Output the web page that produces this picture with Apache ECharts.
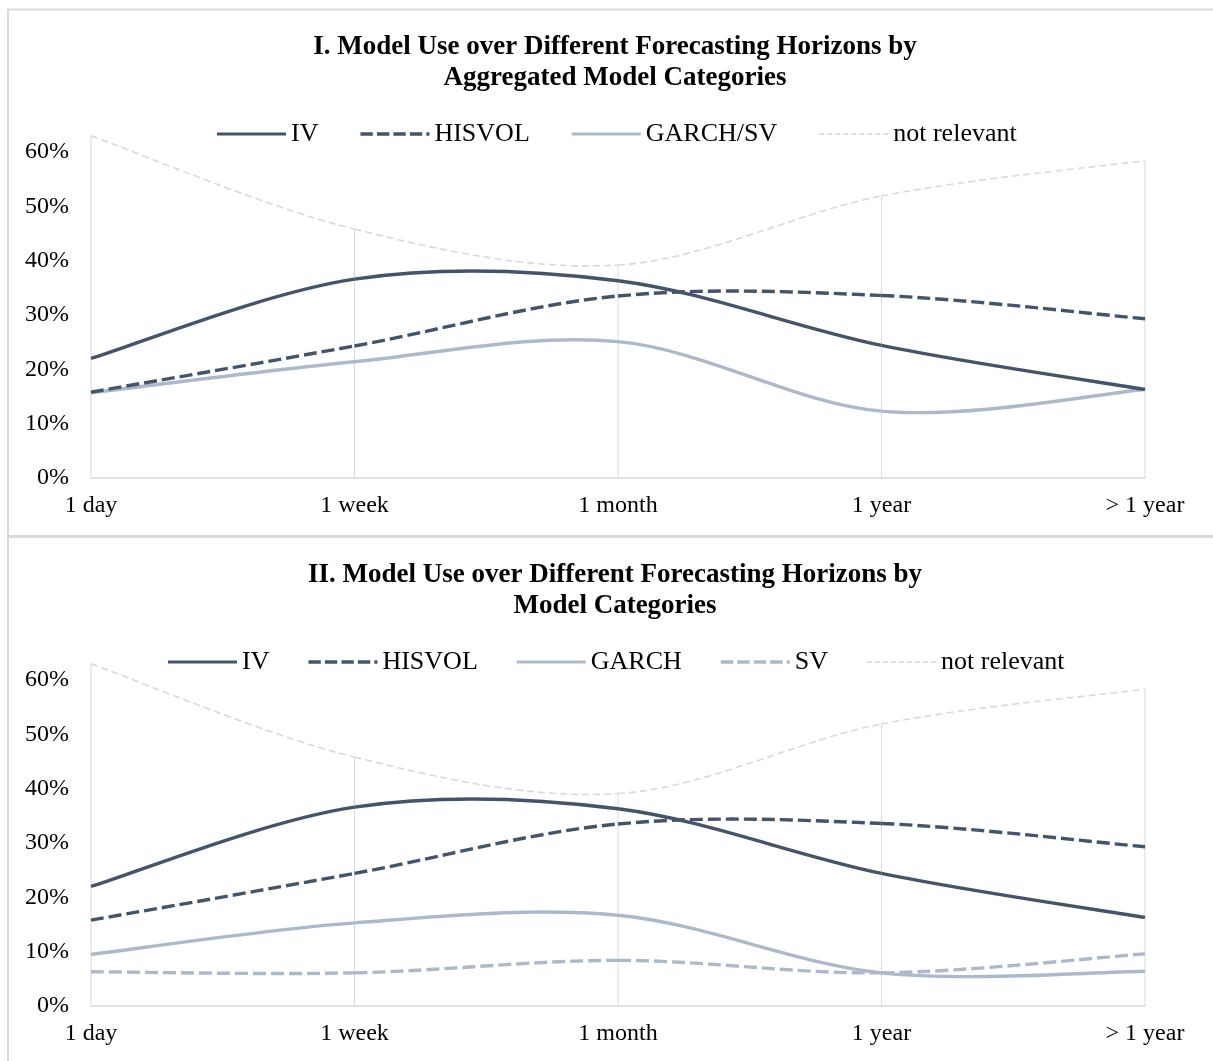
<!DOCTYPE html>
<html>
<head>
<meta charset="utf-8">
<script src="https://cdn.jsdelivr.net/npm/echarts@6/dist/echarts.min.js"></script>
<style>
html,body{margin:0;padding:0;background:#fff;}
#chart{width:1213px;height:1061px;}
</style>
</head>
<body>
<div id="chart"></div>
<script>
// ---- data ----
const categories = ['1 day', '1 week', '1 month', '1 year', '> 1 year'];
const yTicks = [0, 10, 20, 30, 40, 50, 60];

const titleI = 'I. Model Use over Different Forecasting Horizons by\nAggregated Model Categories';
const titleII = 'II. Model Use over Different Forecasting Horizons by\nModel Categories';

const legendI = ['IV', 'HISVOL', 'GARCH/SV', 'not relevant'];
const legendII = ['IV', 'HISVOL', 'GARCH', 'SV', 'not relevant'];

const p1IV = [22.0, 36.6, 36.3, 24.4, 16.3];
const p1HISVOL = [15.8, 24.3, 33.5, 33.6, 29.3];
const p1GARCHSV = [15.7, 21.4, 25.1, 12.3, 16.3];
const p1NotRelevant = [63.0, 45.8, 39.2, 51.9, 58.4];

const p2IV = [22.0, 36.6, 36.3, 24.4, 16.3];
const p2HISVOL = [15.8, 24.4, 33.5, 33.6, 29.3];
const p2GARCH = [9.5, 15.3, 16.7, 6.1, 6.4];
const p2SV = [6.3, 6.1, 8.4, 6.1, 9.6];
const p2NotRelevant = [63.0, 45.8, 39.1, 51.9, 58.3];

// ---- styles ----
const DARK = '#44546a';
const LIGHT = '#adb9ca';
const GREY = '#d9d9d9';
const FONT = '"Liberation Serif", "Times New Roman", serif';
const DASH = [13, 5];
const NR_DASH = [7, 4];

const ICON_SOLID = 'path://M0,0H69V3.2H0Z';
const ICON_DASH = 'path://M0,0h12v3.2h-12zM16,0h12v3.2h-12zM32,0h12v3.2h-12zM48,0h12v3.2h-12zM64,0h3v3.2h-3z';
const ICON_NR = 'path://M0,0h5v1.5h-5zM8,0h5v1.5h-5zM16,0h5v1.5h-5zM24,0h5v1.5h-5zM32,0h5v1.5h-5zM40,0h5v1.5h-5zM48,0h5v1.5h-5zM56,0h5v1.5h-5zM64,0h5v1.5h-5z';

// Excel-like smoothed line (Catmull-Rom Bezier), positioned through the axes via api.coord
function curveSeries(name, arr, idx, color, width, dash) {
  const n = arr.length;
  const cl = k => Math.max(0, Math.min(n - 1, k));
  return {
    name: name, type: 'custom', coordinateSystem: 'cartesian2d',
    xAxisIndex: idx, yAxisIndex: idx,
    data: arr.map((v, i) => [i, v]),
    itemStyle: { color: color },
    z: 3, clip: false, silent: true,
    renderItem: function (params, api) {
      const i = params.dataIndex;
      if (i >= n - 1) return null;
      const P = k => api.coord([cl(k), arr[cl(k)]]);
      const p0 = P(i - 1), p1 = P(i), p2 = P(i + 1), p3 = P(i + 2);
      const t = 1 / 6;
      return {
        type: 'bezierCurve',
        shape: {
          x1: p1[0], y1: p1[1], x2: p2[0], y2: p2[1],
          cpx1: p1[0] + (p2[0] - p0[0]) * t, cpy1: p1[1] + (p2[1] - p0[1]) * t,
          cpx2: p2[0] - (p3[0] - p1[0]) * t, cpy2: p2[1] - (p3[1] - p1[1]) * t
        },
        style: { stroke: color, lineWidth: width, lineDash: dash, fill: null, lineCap: 'butt' }
      };
    }
  };
}
function dropSeries(data, idx) {
  return {
    name: 'drop' + idx, type: 'bar', data: data,
    xAxisIndex: idx, yAxisIndex: idx,
    barWidth: 1, clip: false, z: 1, silent: true,
    itemStyle: { color: GREY }
  };
}
function xAxis(idx) {
  return {
    type: 'category', gridIndex: idx, data: categories, boundaryGap: false,
    axisLine: { lineStyle: { color: GREY, width: 1.5 } },
    axisTick: { show: false },
    axisLabel: { color: '#000', fontFamily: FONT, fontSize: 24, margin: 16 },
    splitLine: { show: false }
  };
}
function yAxis(idx) {
  return {
    type: 'value', gridIndex: idx, min: yTicks[0], max: yTicks[yTicks.length - 1], interval: 10,
    axisLine: { show: false }, axisTick: { show: false }, splitLine: { show: false },
    axisLabel: { color: '#000', fontFamily: FONT, fontSize: 24, margin: 22, formatter: '{value}%' }
  };
}
function legendItems(names) {
  const icons = { 'IV': ICON_SOLID, 'HISVOL': ICON_DASH, 'GARCH/SV': ICON_SOLID, 'GARCH': ICON_SOLID, 'SV': ICON_DASH, 'not relevant': ICON_NR };
  return names.map(n => ({ name: n, icon: icons[n] }));
}
const titleStyle = { color: '#000', fontFamily: FONT, fontSize: 27, fontWeight: 'bold', lineHeight: 31 };
const legendText = { color: '#000', fontFamily: FONT, fontSize: 26 };

const chart = echarts.init(document.getElementById('chart'), null, { renderer: 'canvas' });
chart.setOption({
  backgroundColor: '#fff',
  animation: false,
  title: [
    { text: titleI, left: 610, top: 27, textAlign: 'center', textStyle: titleStyle },
    { text: titleII, left: 610, top: 555, textAlign: 'center', textStyle: titleStyle }
  ],
  legend: [
    { data: legendItems(legendI), left: 212, top: 116, itemWidth: 69, itemHeight: 4, itemGap: 42, textStyle: legendText },
    { data: legendItems(legendII), left: 163, top: 644, itemWidth: 69, itemHeight: 4, itemGap: 39, textStyle: legendText }
  ],
  grid: [
    { left: 91, right: 68, top: 152, height: 326 },
    { left: 91, right: 68, top: 680, height: 326 }
  ],
  xAxis: [xAxis(0), xAxis(1)],
  yAxis: [yAxis(0), yAxis(1)],
  series: [
    dropSeries(p1NotRelevant, 0),
    curveSeries('not relevant', p1NotRelevant, 0, GREY, 1.6, NR_DASH),
    curveSeries('GARCH/SV', p1GARCHSV, 0, LIGHT, 3.4, null),
    curveSeries('HISVOL', p1HISVOL, 0, DARK, 3.4, DASH),
    curveSeries('IV', p1IV, 0, DARK, 3.4, null),

    dropSeries(p2NotRelevant, 1),
    curveSeries('not relevant', p2NotRelevant, 1, GREY, 1.6, NR_DASH),
    curveSeries('SV', p2SV, 1, LIGHT, 3.4, DASH),
    curveSeries('GARCH', p2GARCH, 1, LIGHT, 3.4, null),
    curveSeries('HISVOL', p2HISVOL, 1, DARK, 3.4, DASH),
    curveSeries('IV', p2IV, 1, DARK, 3.4, null)
  ],
  graphic: [
    { type: 'line', shape: { x1: 8, y1: 9.5, x2: 1213, y2: 9.5 }, style: { stroke: GREY, lineWidth: 2 } },
    { type: 'line', shape: { x1: 8, y1: 9, x2: 8, y2: 1061 }, style: { stroke: GREY, lineWidth: 2 } },
    { type: 'line', shape: { x1: 8, y1: 536.5, x2: 1213, y2: 536.5 }, style: { stroke: GREY, lineWidth: 3 } }
  ]
});
</script>
</body>
</html>
